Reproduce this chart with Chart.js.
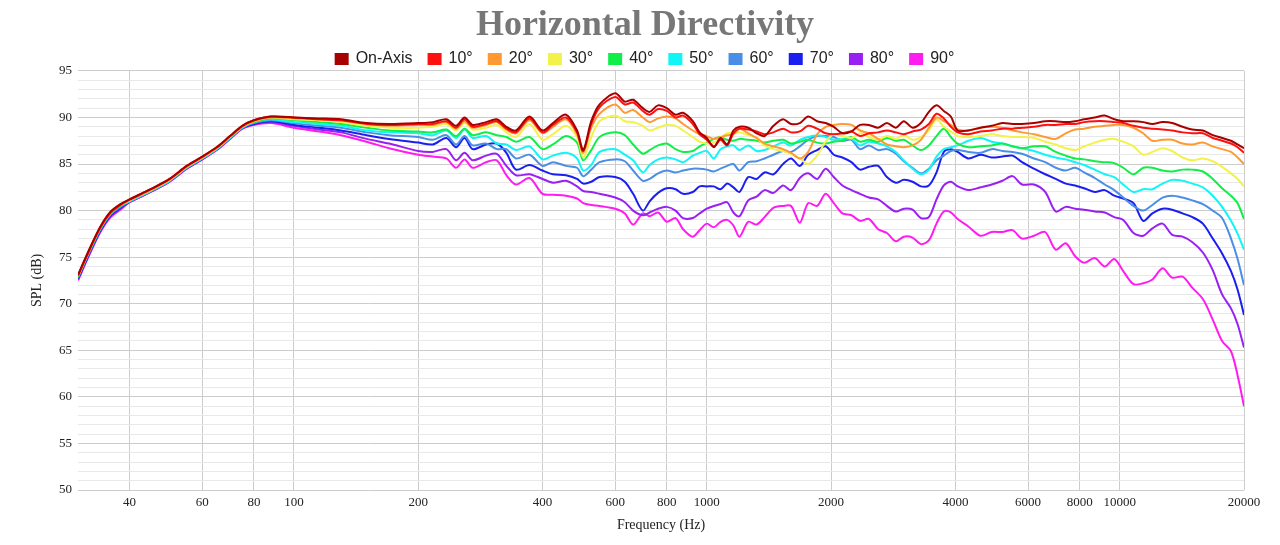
<!DOCTYPE html>
<html><head><meta charset="utf-8">
<script src="https://cdn.jsdelivr.net/npm/chart.js@4/dist/chart.umd.min.js"></script>
<style>html,body{margin:0;padding:0;background:#fff;}#wrap{width:1280px;height:545px;}</style>
</head><body><div id="wrap"><canvas id="c" width="1280" height="545"></canvas></div>
<script>
const freqs = [30,32,34,36,38,40,45,50,55,60,65,70,75,80,88,100,115,130,150,170,200,
217,234,247,259,271,292,310,327,345,372,400,424,456,485,502,525,550,600,633,663,700,727,762,800,840,876,925,961,1000,
1040,1080,1120,1160,1200,1260,1320,1380,1450,1530,1600,1680,1760,1850,1940,2030,2130,2240,2350,2470,2600,2730,2870,3000,3150,3300,3450,3600,3750,3900,4050,
4300,4600,4900,5200,5500,5800,6200,6600,7000,7400,7800,8200,8700,9200,9700,10200,10800,11400,12000,12700,13400,14200,15000,15900,16800,17700,18600,19300,20000];

const onAxis = [73.1,75.9,78.3,79.9,80.7,81.2,82.3,83.4,84.8,85.8,86.8,88.0,89.1,89.7,90.1,90.0,89.9,89.8,89.4,89.3,89.4,
89.5,89.8,89.1,90.0,89.2,89.5,89.8,89.0,88.6,90.1,88.6,89.4,90.3,88.6,86.5,89.6,91.4,92.6,91.7,91.9,91.0,90.6,91.3,91.0,90.3,90.5,89.6,88.4,87.8,
86.8,87.8,87.1,88.6,89.0,88.9,88.3,88.0,89.1,89.8,89.3,89.4,90.1,89.6,89.4,89.0,88.3,88.5,89.2,89.2,88.9,89.4,88.9,89.6,88.9,89.4,90.6,91.3,90.7,90.1,88.6,
88.6,88.9,89.1,89.4,89.3,89.3,89.4,89.6,89.6,89.5,89.6,89.8,90.0,90.2,89.8,89.6,89.6,89.5,89.3,89.5,89.4,89.0,88.7,88.6,88.1,87.8,87.5,87.1,86.7];
const deg10 = [73.0,75.8,78.2,79.8,80.6,81.2,82.3,83.4,84.8,85.8,86.8,88.0,89.1,89.7,90.1,90.0,89.8,89.7,89.3,89.2,89.3,
89.3,89.6,88.9,89.8,89.0,89.3,89.6,88.8,88.4,89.9,88.4,89.2,90.0,88.4,86.4,89.3,91.1,92.2,91.4,91.6,90.7,90.3,90.9,90.7,90.0,90.2,89.3,88.2,87.6,
86.9,87.6,87.0,88.3,88.8,88.7,88.5,88.2,88.4,88.8,88.4,88.5,89.1,88.8,88.3,88.2,88.3,88.5,88.0,88.3,88.4,88.6,88.4,88.2,88.5,88.7,89.3,90.4,89.9,89.0,88.4,
88.2,88.5,88.6,88.8,88.8,88.9,89.0,89.2,89.2,89.3,89.3,89.5,89.6,89.6,89.5,89.4,89.1,88.9,88.8,88.7,88.6,88.4,88.3,88.3,87.8,87.5,87.2,86.8,86.2];
const deg20 = [73.0,75.8,78.2,79.8,80.6,81.1,82.2,83.3,84.7,85.7,86.7,87.9,89.0,89.6,90.0,89.9,89.8,89.7,89.3,89.1,89.2,
89.2,89.5,88.8,89.6,88.9,89.2,89.5,88.7,88.3,89.7,88.3,89.0,89.8,88.2,86.2,88.9,90.4,91.4,90.5,90.8,90.0,89.5,89.9,90.1,89.9,89.3,88.6,88.2,88.0,
87.7,87.9,88.1,88.2,88.8,88.3,87.8,87.2,86.9,86.6,86.2,85.6,86.3,88.2,89.0,89.2,89.3,89.2,88.6,88.3,87.7,87.1,86.9,86.8,87.0,87.6,88.9,90.0,89.6,89.2,88.7,
88.6,88.9,89.0,88.9,88.6,88.4,88.2,87.9,87.7,88.3,88.7,88.8,89.0,89.1,89.2,89.2,88.9,88.3,87.5,87.6,87.6,87.2,87.1,87.3,86.9,86.6,86.3,85.7,85.0];
const deg30 = [73.0,75.8,78.2,79.8,80.6,81.1,82.2,83.3,84.7,85.7,86.7,87.9,89.0,89.6,90.0,89.8,89.7,89.5,89.1,88.9,88.9,
89.0,89.3,88.6,89.4,88.7,88.9,89.2,88.4,87.9,89.3,87.6,88.2,89.1,87.9,85.7,87.9,89.6,90.2,89.6,89.5,89.1,88.6,88.9,89.2,89.1,88.6,87.9,87.4,87.2,
87.3,87.8,88.3,88.3,88.4,88.1,87.8,87.0,86.6,86.4,86.1,85.6,85.0,85.9,87.4,88.2,88.0,87.8,88.3,87.9,87.6,88.0,87.7,88.1,87.6,87.9,88.6,89.8,89.0,88.5,88.0,
87.9,88.0,88.2,88.0,87.9,87.9,87.8,87.4,87.1,86.7,86.5,86.9,87.3,87.6,87.7,87.4,86.9,86.0,86.3,86.7,86.4,85.7,85.4,85.6,85.3,84.7,84.0,83.4,82.6];
const deg40 = [72.9,75.7,78.1,79.7,80.5,81.1,82.2,83.3,84.7,85.7,86.7,87.9,89.0,89.5,89.9,89.7,89.5,89.3,88.9,88.6,88.5,
88.4,88.7,88.0,88.8,88.1,88.4,88.1,87.9,87.4,87.9,86.6,87.1,88.0,87.3,85.4,86.5,87.9,88.4,88.1,87.1,86.1,86.5,87.0,87.2,86.6,86.3,86.4,86.9,87.3,
87.7,87.9,87.6,87.5,87.7,87.6,87.5,87.3,87.5,87.6,87.2,87.4,87.6,87.3,87.2,87.4,87.5,87.9,87.4,87.6,87.4,87.8,87.5,87.6,87.0,86.5,87.0,88.0,88.8,87.9,87.2,
86.8,86.9,87.0,87.2,86.9,86.7,86.9,86.9,86.3,85.9,85.6,85.5,85.3,85.2,85.1,84.6,83.9,84.6,84.6,84.3,84.2,84.4,84.4,84.2,83.4,82.4,81.6,80.8,79.1];
const deg50 = [72.9,75.7,78.1,79.7,80.5,81.0,82.1,83.2,84.6,85.6,86.6,87.8,88.9,89.5,89.8,89.5,89.3,89.1,88.6,88.4,88.3,
88.1,88.6,87.8,88.7,87.8,88.0,87.2,87.1,86.5,86.9,85.5,85.9,86.2,85.6,84.3,84.9,86.3,86.6,86.0,85.4,84.1,84.9,85.5,85.7,85.5,85.2,85.9,86.2,86.4,
85.6,86.6,86.9,87.0,86.5,87.0,86.4,86.5,86.9,87.3,87.0,87.6,87.9,88.1,87.9,87.6,87.7,87.7,87.0,87.4,87.2,86.9,86.3,85.4,84.5,83.9,84.4,85.8,86.6,86.8,87.0,
87.5,87.8,87.4,87.2,86.9,86.7,86.4,86.0,85.7,85.5,85.2,84.9,84.4,83.9,83.6,82.8,82.0,82.3,82.3,82.9,83.3,83.2,82.9,82.5,81.6,80.4,78.9,77.5,75.8];
const deg60 = [72.8,75.6,78.0,79.6,80.4,81.0,82.1,83.2,84.6,85.6,86.6,87.8,88.9,89.4,89.7,89.4,89.1,88.9,88.4,88.1,87.9,
87.6,88.1,87.1,88.0,87.0,87.2,86.6,86.6,85.6,86.0,84.8,85.2,84.8,84.6,83.7,84.4,85.2,85.5,85.3,84.3,83.2,83.4,84.0,84.3,84.1,84.3,84.5,84.5,84.4,
84.2,84.5,84.8,85.0,84.3,85.2,85.3,85.6,86.0,86.4,86.3,86.9,87.6,88.0,88.0,87.9,87.5,87.6,86.6,87.0,86.5,86.6,86.1,85.3,84.6,84.0,84.5,85.4,85.9,86.4,86.5,
86.3,86.2,86.6,86.4,86.3,86.1,85.6,85.2,84.6,84.3,84.6,84.1,83.5,82.8,82.2,81.4,80.5,80.0,80.6,81.4,81.6,81.4,81.1,80.7,80.0,79.2,77.0,74.8,72.0];
const deg70 = [72.7,75.5,77.9,79.5,80.3,81.0,82.1,83.2,84.6,85.6,86.6,87.8,88.9,89.3,89.6,89.2,88.9,88.6,88.1,87.7,87.3,
87.1,87.8,86.8,87.8,86.6,87.1,87.2,86.2,84.4,84.9,84.3,83.9,83.8,83.4,82.9,83.1,83.6,83.6,83.1,81.8,80.0,81.0,81.9,82.4,82.3,81.8,82.0,82.6,82.6,
82.6,82.3,82.9,82.5,82.0,83.6,83.4,84.1,83.9,85.0,85.6,84.8,86.0,86.5,86.9,86.0,85.7,85.2,84.4,84.7,84.8,83.6,83.0,83.3,83.1,82.6,82.7,84.1,86.3,86.6,86.3,
85.6,86.0,85.7,85.8,85.9,85.2,84.5,83.9,83.4,82.9,82.7,82.4,82.0,82.2,81.6,81.3,80.8,78.9,79.7,80.2,80.1,79.7,79.3,78.6,77.0,75.4,73.5,71.5,68.8];
const deg80 = [72.6,75.4,77.8,79.4,80.2,80.9,82.0,83.1,84.5,85.5,86.5,87.7,88.8,89.3,89.5,89.1,88.7,88.4,87.7,87.2,86.4,
86.3,86.6,85.4,86.2,85.4,85.9,86.1,84.8,83.8,83.9,83.4,83.0,83.2,82.6,82.1,82.0,81.8,81.4,80.9,80.0,79.5,79.8,80.2,80.4,80.0,79.2,79.2,79.7,80.2,
80.5,80.7,80.9,79.8,79.4,81.1,81.5,82.2,81.9,82.7,82.2,83.5,84.0,83.4,84.5,83.6,82.7,82.2,81.8,81.4,81.2,80.5,79.9,80.2,80.1,79.2,79.3,81.2,82.7,83.1,82.6,
82.2,82.5,82.8,83.2,83.7,82.8,82.8,82.0,79.9,80.4,80.2,80.1,79.9,79.8,79.3,79.0,77.6,77.3,78.1,78.6,77.4,77.2,76.6,75.5,73.6,71.0,69.5,67.8,65.3];
const deg90 = [72.5,75.3,77.7,79.3,80.1,80.9,82.0,83.1,84.5,85.5,86.5,87.7,88.8,89.2,89.4,88.9,88.5,88.1,87.4,86.7,86.0,
85.8,85.6,84.6,85.5,84.6,85.2,85.4,83.8,82.8,83.5,81.8,81.7,81.6,81.3,80.8,80.6,80.5,80.2,79.7,78.5,79.7,79.4,79.8,78.8,79.2,78.0,77.2,77.9,78.6,
78.2,78.8,79.0,78.4,77.2,78.8,78.5,79.3,80.3,80.5,80.5,78.7,80.8,80.5,81.8,80.8,79.7,79.5,78.9,79.1,78.0,77.6,76.7,77.2,77.1,76.4,76.8,78.6,79.9,79.8,79.1,
78.3,77.3,77.7,77.7,77.9,77.0,77.3,77.7,75.8,76.5,75.1,74.4,74.9,74.0,74.8,73.5,72.1,72.2,72.6,73.8,72.8,72.9,71.7,70.5,68.3,66.0,64.9,62.3,59.0];

const seriesNames = ['On-Axis','10°','20°','30°','40°','50°','60°','70°','80°','90°'];
const seriesColors = ['#a80000','#ff1010','#ff9a33','#f2f24a','#10ee48','#10f5f5','#4a8ee6','#1a1ff0','#9a1ff2','#ff1cf0'];
const seriesValues = [onAxis,deg10,deg20,deg30,deg40,deg50,deg60,deg70,deg80,deg90];
const xTickValues = [40,60,80,100,200,400,600,800,1000,2000,4000,6000,8000,10000,20000];
const yMin = 50, yMax = 95;

const datasets = seriesNames.map((name, i) => ({
  label: name,
  data: freqs.map((f, j) => ({x: f, y: seriesValues[i][j]})),
  borderColor: seriesColors[i],
  backgroundColor: seriesColors[i],
  borderWidth: 2,
  pointRadius: 0,
  tension: 0.3,
  fill: false
}));

const legendShrink = {
  id: 'legendShrink',
  beforeInit(chart) {
    const orig = chart.legend.fit;
    chart.legend.fit = function () { orig.call(this); this.height -= 6; };
  }
};

const serif = 'Liberation Serif, Times New Roman, serif';
new Chart(document.getElementById('c'), {
  type: 'line',
  data: { datasets },
  options: {
    responsive: false,
    animation: false,
    devicePixelRatio: 1,
    layout: { padding: { left: 10, right: 0, top: 0, bottom: 0 } },
    plugins: {
      title: { display: true, text: 'Horizontal Directivity', color: '#777777',
        font: { family: serif, size: 36, weight: 'bold', lineHeight: 0.525 }, padding: { top: 16, bottom: 0 } },
      legend: { display: true, position: 'top',
        labels: { font: { family: 'Liberation Sans, Arial, sans-serif', size: 16 }, color: '#222', boxWidth: 12, boxHeight: 10, padding: 16 } },
      tooltip: { enabled: false }
    },
    scales: {
      x: {
        type: 'logarithmic', min: 30, max: 20000,
        afterBuildTicks: s => { s.ticks = xTickValues.map(v => ({ value: v })); },
        ticks: { autoSkip: false, maxRotation: 0, minRotation: 0, padding: 5, color: '#222',
          font: { family: serif, size: 13 }, callback: v => String(v) },
        grid: { color: '#cccccc', drawTicks: false },
        border: { display: false },
        title: { display: true, text: 'Frequency (Hz)', color: '#222', font: { family: serif, size: 14 }, padding: { top: 7, bottom: 11.6 } },
        afterFit: s => { s.height = 55; }
      },
      y: {
        min: yMin, max: yMax,
        ticks: { stepSize: 1, autoSkip: false, padding: 6, color: '#222', font: { family: serif, size: 13 },
          callback: v => (v % 5 === 0 ? String(v) : '') },
        grid: { color: ctx => (ctx.tick && ctx.tick.value % 5 === 0 ? '#cccccc' : '#e8e8e8'), drawTicks: false },
        border: { display: false },
        title: { display: true, text: 'SPL (dB)', color: '#222', font: { family: serif, size: 14 }, padding: { top: 18.6, bottom: 13.6 } },
        afterFit: s => { s.width = 68; }
      },
      yR: {
        type: 'linear', position: 'right', display: true,
        grid: { display: false }, border: { display: false }, ticks: { display: false },
        afterFit: s => { s.width = 36; }
      }
    }
  },
  plugins: [legendShrink]
});
</script>
</body></html>
